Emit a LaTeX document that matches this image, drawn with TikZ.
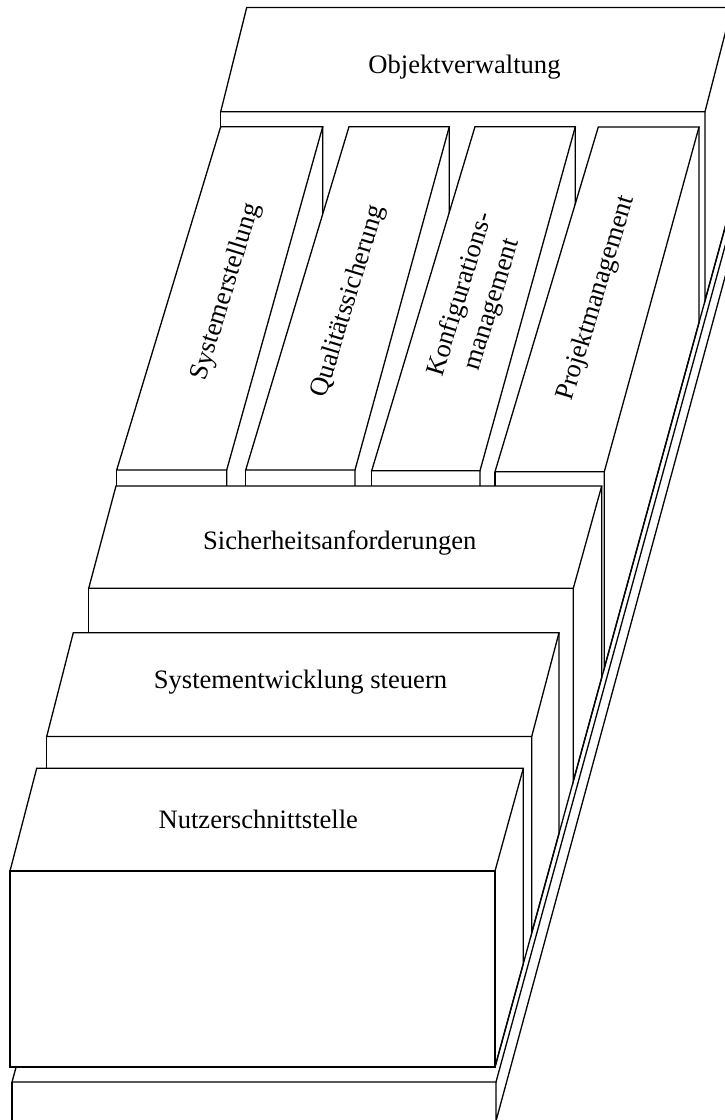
\documentclass[tikz,border=0pt]{standalone}
\usepackage{fontspec}
\setmainfont{Liberation Serif}
\begin{document}
\begin{tikzpicture}[x=1bp,y=-1bp,line width=1.3bp,line join=miter,
  face/.style={fill=white,draw=none},
  lbl/.style={font=\fontsize{26.6bp}{33bp}\selectfont,inner sep=0pt}]
\useasboundingbox (0,0) rectangle (725,1120);
\clip (0,0) rectangle (725,1120);
% ---------- base plate ----------
\coordinate (bFL) at (12,1082);
\coordinate (bFR) at (496,1082);
\coordinate (bBL) at (267.4,150);
\coordinate (bBR) at (751.4,150);
\coordinate (bFRb) at (496,1121);
\coordinate (bBRb) at (759.5,150);
\draw (bBL) -- (bFL) -- (bFR) -- (bBR);
\draw (bFR) -- (bFRb) -- (bBRb);
\draw (bFL) -- (12,1125);
% ---------- Objektverwaltung ----------
\coordinate (oTL) at (246.7,7.5);
\coordinate (oTR) at (731.8,7.5);
\coordinate (oFL) at (220.7,111.7);
\coordinate (oFR) at (705,111.7);
\coordinate (oFRb) at (705,300.6);
\coordinate (oBRb) at (731.8,202.8);
\coordinate (oFLb) at (220.7,300.6);
\path[face] (oTL) -- (oTR) -- (oFR) -- (oFL) -- cycle;
\path[face] (oFL) -- (oFR) -- (oFRb) -- (oFLb) -- cycle;
\path[face] (oFR) -- (oTR) -- (oBRb) -- (oFRb) -- cycle;
\draw (oTL) -- (oTR) -- (oFR) -- (oFL) -- cycle;
\draw (oFL) -- (oFLb);
\draw (oFR) -- (oFRb) -- (oBRb);
% ---------- columns ----------
% column 1
\coordinate (c1BL) at (220.7,126.7);
\coordinate (c1BR) at (322.7,126.7);
\coordinate (c1FR) at (226.7,470);
\coordinate (c1FL) at (116.7,470);
\coordinate (c1FRb) at (226.7,670);
\coordinate (c1FLb) at (116.7,670);
\coordinate (c1BRb) at (322.7,326.7);
\path[face] (c1BL) -- (c1BR) -- (c1FR) -- (c1FL) -- cycle;
\path[face] (c1FL) -- (c1FR) -- (c1FRb) -- (c1FLb) -- cycle;
\path[face] (c1FR) -- (c1BR) -- (c1BRb) -- (c1FRb) -- cycle;
\draw (c1BL) -- (c1BR) -- (c1FR) -- (c1FL) -- cycle;
\draw (c1FL) -- (c1FLb);
\draw (c1FR) -- (c1FRb) -- (c1BRb) -- (c1BR);
% column 2
\coordinate (c2BL) at (349,126.7);
\coordinate (c2BR) at (449.3,126.7);
\coordinate (c2FR) at (355,470);
\coordinate (c2FL) at (245.7,470);
\coordinate (c2FRb) at (355,670);
\coordinate (c2FLb) at (245.7,670);
\coordinate (c2BRb) at (449.3,326.7);
\path[face] (c2BL) -- (c2BR) -- (c2FR) -- (c2FL) -- cycle;
\path[face] (c2FL) -- (c2FR) -- (c2FRb) -- (c2FLb) -- cycle;
\path[face] (c2FR) -- (c2BR) -- (c2BRb) -- (c2FRb) -- cycle;
\draw (c2BL) -- (c2BR) -- (c2FR) -- (c2FL) -- cycle;
\draw (c2FL) -- (c2FLb);
\draw (c2FR) -- (c2FRb) -- (c2BRb) -- (c2BR);
% column 3
\coordinate (c3BL) at (475,126.7);
\coordinate (c3BR) at (575.3,126.7);
\coordinate (c3FR) at (480,470.7);
\coordinate (c3FL) at (371.7,470.7);
\coordinate (c3FRb) at (480,670);
\coordinate (c3FLb) at (371.7,670);
\coordinate (c3BRb) at (575.3,326.7);
\path[face] (c3BL) -- (c3BR) -- (c3FR) -- (c3FL) -- cycle;
\path[face] (c3FL) -- (c3FR) -- (c3FRb) -- (c3FLb) -- cycle;
\path[face] (c3FR) -- (c3BR) -- (c3BRb) -- (c3FRb) -- cycle;
\draw (c3BL) -- (c3BR) -- (c3FR) -- (c3FL) -- cycle;
\draw (c3FL) -- (c3FLb);
\draw (c3FR) -- (c3FRb) -- (c3BRb) -- (c3BR);
% column 4
\coordinate (c4BL) at (598.3,127);
\coordinate (c4BR) at (699,127);
\coordinate (c4FR) at (604.3,471.7);
\coordinate (c4FL) at (495,471.7);
\coordinate (c4FRb) at (604.3,668.1);
\coordinate (c4FLb) at (495,668.1);
\coordinate (c4BRb) at (699,322.5);
\path[face] (c4BL) -- (c4BR) -- (c4FR) -- (c4FL) -- cycle;
\path[face] (c4FL) -- (c4FR) -- (c4FRb) -- (c4FLb) -- cycle;
\path[face] (c4FR) -- (c4BR) -- (c4BRb) -- (c4FRb) -- cycle;
\draw (c4BL) -- (c4BR) -- (c4FR) -- (c4FL) -- cycle;
\draw (c4FL) -- (c4FLb);
\draw (c4FR) -- (c4FRb) -- (c4BRb) -- (c4BR);
% ---------- Sicherheitsanforderungen ----------
\coordinate (sTL) at (116,486);
\coordinate (sTR) at (601.7,486);
\coordinate (sFR) at (573.3,588.3);
\coordinate (sFL) at (88.7,588.3);
\coordinate (sFRb) at (573.3,781.2);
\coordinate (sFLb) at (88.7,781.2);
\coordinate (sBRb) at (601.7,677.6);
\path[face] (sTL) -- (sTR) -- (sFR) -- (sFL) -- cycle;
\path[face] (sFL) -- (sFR) -- (sFRb) -- (sFLb) -- cycle;
\path[face] (sFR) -- (sTR) -- (sBRb) -- (sFRb) -- cycle;
\draw (sTL) -- (sTR) -- (sFR) -- (sFL) -- cycle;
\draw (sFL) -- (sFLb);
\draw (sFR) -- (sFRb) -- (sBRb) -- (sTR);
% ---------- Systementwicklung steuern ----------
\coordinate (eTL) at (73.3,632.7);
\coordinate (eTR) at (559,632.7);
\coordinate (eFR) at (531.7,736.5);
\coordinate (eFL) at (46.7,736.5);
\coordinate (eFRb) at (531.7,933);
\coordinate (eFLb) at (46.7,933);
\coordinate (eBRb) at (559,833.4);
\path[face] (eTL) -- (eTR) -- (eFR) -- (eFL) -- cycle;
\path[face] (eFL) -- (eFR) -- (eFRb) -- (eFLb) -- cycle;
\path[face] (eFR) -- (eTR) -- (eBRb) -- (eFRb) -- cycle;
\draw (eTL) -- (eTR) -- (eFR) -- (eFL) -- cycle;
\draw (eFL) -- (eFLb);
\draw (eFR) -- (eFRb) -- (eBRb) -- (eTR);
% ---------- Nutzerschnittstelle ----------
\coordinate (nTL) at (36.7,768.3);
\coordinate (nTR) at (523.3,768.3);
\coordinate (nFR) at (495,871);
\coordinate (nFL) at (10,871);
\coordinate (nFRb) at (495,1067);
\coordinate (nFLb) at (10,1067);
\coordinate (nBRb) at (523.3,963.7);
\path[face] (nTL) -- (nTR) -- (nFR) -- (nFL) -- cycle;
\path[face] (nFL) -- (nFR) -- (nFRb) -- (nFLb) -- cycle;
\path[face] (nFR) -- (nTR) -- (nBRb) -- (nFRb) -- cycle;
\draw (nTL) -- (nTR) -- (nFR) -- (nFL) -- cycle;
\draw (nFL) -- (nFR) -- (nFRb) -- (nFLb) -- cycle;
\draw (nFRb) -- (nBRb) -- (nTR);
% ---------- common edge on the base ----------
\coordinate (Ltop) at (740,173);
\draw (nFRb) -- (Ltop);
% ---------- labels ----------
\node[lbl,anchor=base] (tov) at (464.5,73.6) {Objektverwaltung};
\node[lbl,anchor=base] (tsa) at (339.8,549) {Sicherheitsanforderungen};
\node[lbl,anchor=base] (tse) at (300.5,688) {Systementwicklung steuern};
\node[lbl,anchor=base] (tnu) at (258.3,828) {Nutzerschnittstelle};
\node[lbl,rotate=73] (t1) at (226.4,291.7) {Systemerstellung};
\node[lbl,rotate=73] (t2) at (348.6,301.7) {Qualitätssicherung};
\node[lbl,rotate=73,align=center] (t3) at (476.8,299.5) {Konfigurations-\\management};
\node[lbl,rotate=73] (t4) at (596.8,298.3) {Projektmanagement};
\end{tikzpicture}
\end{document}
